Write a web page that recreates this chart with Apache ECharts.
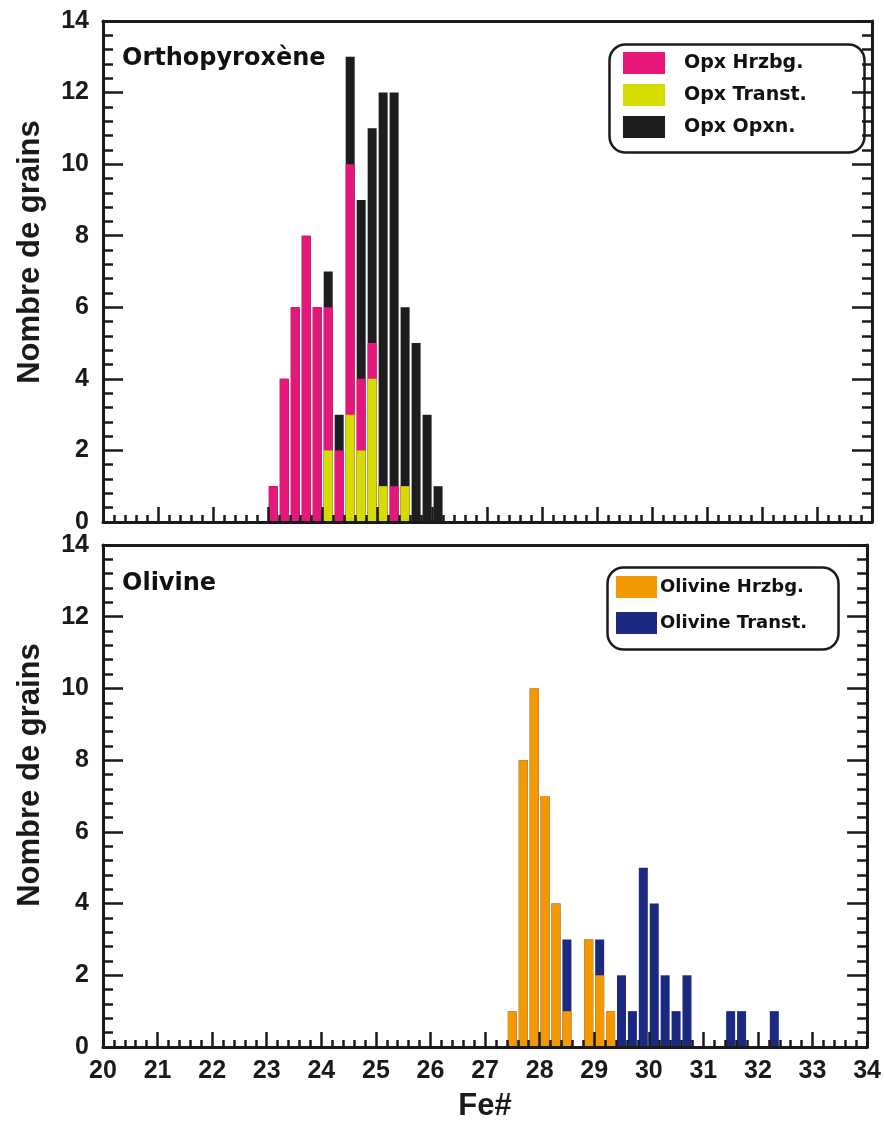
<!DOCTYPE html>
<html>
<head>
<meta charset="utf-8">
<script src="https://cdn.jsdelivr.net/npm/echarts@6/dist/echarts.min.js"></script>
<style>
html,body{margin:0;padding:0;background:#fff;}
#chart{width:884px;height:1131px;}
</style>
</head>
<body>
<div id="chart"></div>
<script>
// ---- Data ----
const opxBins = [23.1, 23.3, 23.5, 23.7, 23.9, 24.1, 24.3, 24.5, 24.7, 24.9, 25.1, 25.3, 25.5, 25.7, 25.9, 26.1];
const opxHrzbg  = [1, 4, 6, 8, 6, 4, 2, 7, 2, 1, 0, 1, 0, 0, 0, 0];
const opxTranst = [0, 0, 0, 0, 0, 2, 0, 3, 2, 4, 1, 0, 1, 0, 0, 0];
const opxOpxn   = [0, 0, 0, 0, 0, 1, 1, 3, 5, 6, 11, 11, 5, 5, 3, 1];

const olBins = [27.5, 27.7, 27.9, 28.1, 28.3, 28.5, 28.7, 28.9, 29.1, 29.3, 29.5, 29.7, 29.9,
                30.1, 30.3, 30.5, 30.7, 30.9, 31.1, 31.3, 31.5, 31.7, 31.9, 32.1, 32.3];
const olivineHrzbg  = [1, 8, 10, 7, 4, 1, 0, 3, 2, 1, 0, 0, 0, 0, 0, 0, 0, 0, 0, 0, 0, 0, 0, 0, 0];
const olivineTranst = [0, 0, 0, 0, 0, 2, 0, 0, 1, 0, 2, 1, 5, 4, 2, 1, 2, 0, 0, 0, 1, 1, 0, 0, 1];

const xTickMin = 20, xTickMax = 34, xTickStep = 1;
const yTickMin = 0, yTickMax = 14, yTickStep = 2;

// Stacked tops (yellow at bottom, pink in the middle, black on top; orange bottom, navy top),
// drawn as overlapping bars with the tallest first.
const opxTopTranst = opxTranst.slice();
const opxTopHrzbg  = opxTranst.map((v, i) => v + opxHrzbg[i]);
const opxTopOpxn   = opxTopHrzbg.map((v, i) => v + opxOpxn[i]);
const olTopHrzbg   = olivineHrzbg.slice();
const olTopTranst  = olivineHrzbg.map((v, i) => v + olivineTranst[i]);

// ---- Styling ----
const AX = '#1a1a1a';
const C_PINK = '#E5177B', C_YEL = '#D4DC00', C_BLK = '#1D1D1F', C_ORG = '#F39800', C_NAVY = '#1B2A80';
const LBL = {fontFamily: 'Liberation Sans', fontWeight: 'bold', fontSize: 25, color: '#1a1a1a'};

function xAx(grid, labels) {
  return {
    gridIndex: grid, type: 'value', min: xTickMin, max: xTickMax, interval: xTickStep, z: 10,
    axisLine: {show: true, onZero: false, lineStyle: {color: AX, width: 3}},
    axisTick: {show: true, inside: true, length: 15, lineStyle: {color: AX, width: 2.5}},
    minorTick: {show: true, splitNumber: 5, length: 7, lineStyle: {color: AX, width: 2.5}},
    axisLabel: labels ? Object.assign({show: true, margin: 12}, LBL) : {show: false},
    splitLine: {show: false}
  };
}
function xTop(grid) {
  return {
    gridIndex: grid, type: 'value', position: 'top', min: xTickMin, max: xTickMax, z: 10,
    axisLine: {show: true, onZero: false, lineStyle: {color: AX, width: 3}},
    axisTick: {show: false}, axisLabel: {show: false}, splitLine: {show: false}
  };
}
function yAx(grid, pos, labels) {
  return {
    gridIndex: grid, type: 'value', position: pos, min: yTickMin, max: yTickMax, interval: yTickStep, z: 10,
    axisLine: {show: true, onZero: false, lineStyle: {color: AX, width: 3}},
    axisTick: {show: true, inside: true, length: 20, lineStyle: {color: AX, width: 2.5}},
    minorTick: {show: true, splitNumber: 5, length: 10, lineStyle: {color: AX, width: 2.5}},
    axisLabel: labels ? Object.assign({show: true, margin: 14}, LBL) : {show: false},
    splitLine: {show: false}
  };
}
function barSeries(name, bins, vals, color, xi, yi) {
  return {
    name: name, type: 'bar', xAxisIndex: xi, yAxisIndex: yi,
    barWidth: 9, barGap: '-100%', itemStyle: {color: color},
    data: bins.map((b, i) => [b, vals[i]])
  };
}

const chart = echarts.init(document.getElementById('chart'), null, {renderer: 'canvas'});
const option = {
  animation: false,
  backgroundColor: '#ffffff',
  title: [
    {text: 'Orthopyroxène', left: 122, top: 47, padding: 0,
     textStyle: {fontFamily: 'DejaVu Sans', fontWeight: 'bold', fontSize: 24, color: '#111'}},
    {text: 'Olivine', left: 122, top: 572, padding: 0,
     textStyle: {fontFamily: 'DejaVu Sans', fontWeight: 'bold', fontSize: 24, color: '#111'}}
  ],
  grid: [
    {left: 103, right: 12, top: 21, height: 501, show: false},
    {left: 103, right: 12, top: 545, height: 502, show: false}
  ],
  xAxis: [
    xAx(0, false), xTop(0),
    Object.assign(xAx(1, true), {name: 'Fe#', nameLocation: 'middle', nameGap: 44,
      nameTextStyle: {fontFamily: 'Liberation Sans', fontWeight: 'bold', fontSize: 31, color: '#1a1a1a'}}),
    xTop(1)
  ],
  yAxis: [
    yAx(0, 'left', true), yAx(0, 'right', false),
    yAx(1, 'left', true), yAx(1, 'right', false)
  ],
  legend: [
    {left: 623, top: 52, padding: 0, orient: 'vertical', itemWidth: 42, itemHeight: 22, itemGap: 10,
     icon: 'rect', selectedMode: false,
     data: ['Opx Hrzbg.', 'Opx Transt.', 'Opx Opxn.'],
     textStyle: {fontFamily: 'DejaVu Sans', fontWeight: 'bold', fontSize: 19, color: '#111', padding: [0, 0, 0, 14]}},
    {left: 616, top: 576, padding: 0, orient: 'vertical', itemWidth: 41, itemHeight: 22, itemGap: 14,
     icon: 'rect', selectedMode: false,
     data: ['Olivine Hrzbg.', 'Olivine Transt.'],
     textStyle: {fontFamily: 'DejaVu Sans', fontWeight: 'bold', fontSize: 18, color: '#111', padding: [0, 0, 0, -2]}}
  ],
  graphic: [
    {type: 'rect', left: 607, top: 42, z: 20,
     shape: {width: 255, height: 108, r: 16},
     style: {fill: 'none', stroke: '#1a1a1a', lineWidth: 2.5}},
    {type: 'rect', left: 605, top: 565, z: 20,
     shape: {width: 231, height: 82, r: 16},
     style: {fill: 'none', stroke: '#1a1a1a', lineWidth: 2.5}},
    {type: 'text', x: 30, y: 252, rotation: Math.PI / 2, z: 20,
     style: {text: 'Nombre de grains', textAlign: 'center', textVerticalAlign: 'middle',
       font: 'bold 31px "Liberation Sans"', fill: '#1a1a1a'}},
    {type: 'text', x: 30, y: 775, rotation: Math.PI / 2, z: 20,
     style: {text: 'Nombre de grains', textAlign: 'center', textVerticalAlign: 'middle',
       font: 'bold 31px "Liberation Sans"', fill: '#1a1a1a'}}
  ],
  series: [
    barSeries('Opx Opxn.', opxBins, opxTopOpxn, C_BLK, 0, 0),
    barSeries('Opx Hrzbg.', opxBins, opxTopHrzbg, C_PINK, 0, 0),
    barSeries('Opx Transt.', opxBins, opxTopTranst, C_YEL, 0, 0),
    barSeries('Olivine Transt.', olBins, olTopTranst, C_NAVY, 2, 2),
    barSeries('Olivine Hrzbg.', olBins, olTopHrzbg, C_ORG, 2, 2)
  ]
};
chart.setOption(option);
</script>
</body>
</html>
